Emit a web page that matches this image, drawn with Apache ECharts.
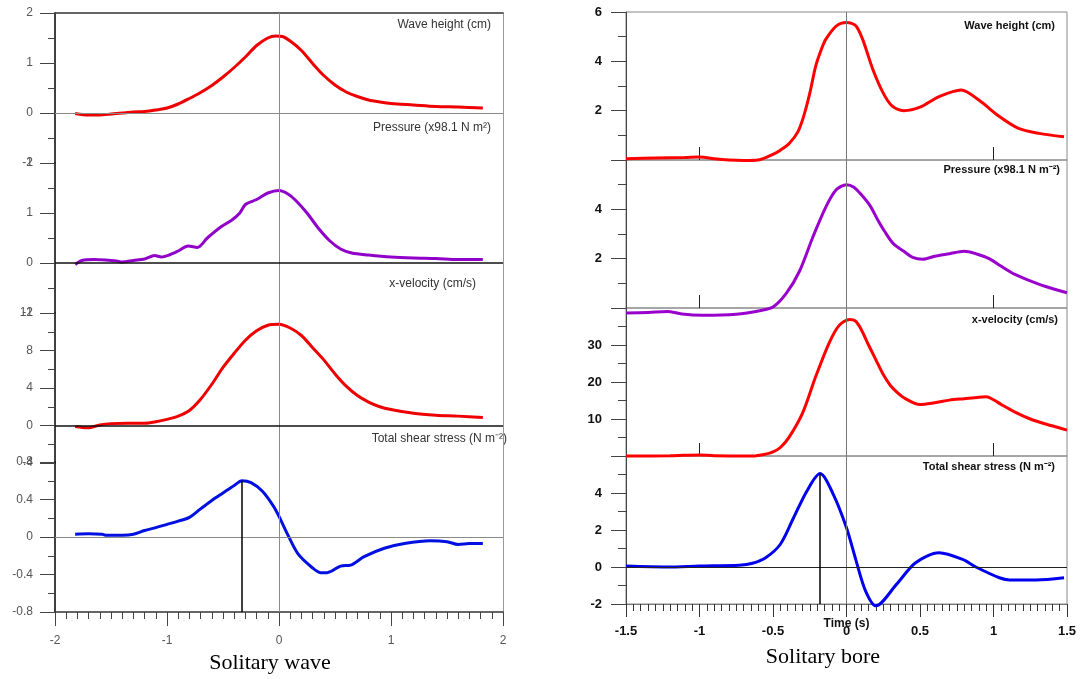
<!DOCTYPE html>
<html>
<head>
<meta charset="utf-8">
<script src="https://cdn.jsdelivr.net/npm/echarts@6/dist/echarts.min.js"></script>
<style>
html, body { margin: 0; padding: 0; background: #fff; }
#chart { width: 1082px; height: 679px; }
</style>
</head>
<body>
<div id="chart"></div>
<script>
// ---- Solitary wave (left column) ----
var waveHeightT = [-1.82, -1.7, -1.6, -1.5, -1.4, -1.3, -1.2, -1.1, -1.0, -0.9, -0.8, -0.7, -0.6, -0.5, -0.4, -0.3, -0.2, -0.1, -0.03, 0.03, 0.1, 0.2, 0.3, 0.4, 0.5, 0.6, 0.7, 0.8, 0.9, 1.0, 1.2, 1.4, 1.6, 1.82];
var waveHeightV = [-0.01, -0.04, -0.04, -0.02, 0.0, 0.02, 0.03, 0.06, 0.1, 0.18, 0.29, 0.41, 0.55, 0.72, 0.91, 1.12, 1.35, 1.5, 1.54, 1.53, 1.44, 1.25, 0.99, 0.75, 0.56, 0.42, 0.33, 0.26, 0.22, 0.19, 0.16, 0.13, 0.12, 0.1];

var wavePressureT = [-1.82, -1.76, -1.65, -1.55, -1.45, -1.4, -1.3, -1.2, -1.11, -1.05, -0.98, -0.9, -0.81, -0.73, -0.64, -0.52, -0.42, -0.35, -0.3, -0.2, -0.1, 0.0, 0.08, 0.15, 0.25, 0.35, 0.45, 0.55, 0.65, 0.8, 1.0, 1.2, 1.4, 1.6, 1.82];
var wavePressureV = [-0.03, 0.05, 0.07, 0.06, 0.04, 0.02, 0.05, 0.08, 0.15, 0.12, 0.16, 0.24, 0.34, 0.31, 0.5, 0.72, 0.86, 1.0, 1.17, 1.27, 1.4, 1.45, 1.38, 1.25, 1.0, 0.7, 0.45, 0.28, 0.2, 0.16, 0.12, 0.1, 0.09, 0.07, 0.07];

var waveVelocityT = [-1.82, -1.71, -1.6, -1.5, -1.35, -1.2, -1.1, -1.0, -0.9, -0.8, -0.7, -0.6, -0.5, -0.4, -0.3, -0.2, -0.1, 0.0, 0.1, 0.2, 0.3, 0.4, 0.5, 0.6, 0.7, 0.8, 0.9, 1.0, 1.2, 1.4, 1.6, 1.82];
var waveVelocityV = [-0.1, -0.25, 0.05, 0.2, 0.25, 0.25, 0.4, 0.65, 1.0, 1.6, 2.8, 4.4, 6.2, 7.7, 9.1, 10.1, 10.7, 10.8, 10.4, 9.6, 8.3, 7.0, 5.5, 4.2, 3.2, 2.5, 2.0, 1.7, 1.3, 1.1, 1.0, 0.85];

var waveShearT = [-1.82, -1.7, -1.58, -1.55, -1.4, -1.3, -1.2, -1.1, -1.0, -0.9, -0.8, -0.7, -0.6, -0.5, -0.4, -0.33, -0.25, -0.15, -0.05, 0.0, 0.08, 0.17, 0.29, 0.37, 0.43, 0.55, 0.64, 0.76, 0.94, 1.12, 1.35, 1.5, 1.6, 1.7, 1.82];
var waveShearV = [0.03, 0.035, 0.03, 0.02, 0.02, 0.03, 0.07, 0.1, 0.135, 0.17, 0.21, 0.3, 0.39, 0.47, 0.55, 0.6, 0.58, 0.49, 0.33, 0.22, 0.02, -0.18, -0.32, -0.38, -0.38, -0.31, -0.3, -0.21, -0.12, -0.07, -0.04, -0.05, -0.08, -0.07, -0.07];

// ---- Solitary bore (right column) ----
var boreHeightT = [-1.5, -1.3, -1.1, -1.0, -0.9, -0.8, -0.7, -0.6, -0.5, -0.45, -0.39, -0.33, -0.29, -0.25, -0.21, -0.17, -0.14, -0.07, 0.0, 0.03, 0.066, 0.11, 0.18, 0.25, 0.31, 0.39, 0.5, 0.63, 0.78, 0.9, 1.04, 1.17, 1.31, 1.48];
var boreHeightV = [0.05, 0.08, 0.1, 0.12, 0.05, 0.0, -0.02, 0.0, 0.23, 0.4, 0.67, 1.15, 1.8, 2.7, 3.8, 4.5, 4.9, 5.43, 5.57, 5.55, 5.43, 4.89, 3.66, 2.71, 2.19, 2.0, 2.14, 2.57, 2.84, 2.43, 1.76, 1.28, 1.08, 0.94];

var borePressureT = [-1.5, -1.35, -1.22, -1.12, -0.98, -0.75, -0.59, -0.5, -0.41, -0.32, -0.23, -0.14, -0.07, 0.0, 0.05, 0.1, 0.16, 0.21, 0.26, 0.32, 0.39, 0.45, 0.52, 0.6, 0.7, 0.8, 0.88, 0.97, 1.05, 1.15, 1.25, 1.35, 1.5];
var borePressureV = [-0.2, -0.18, -0.14, -0.24, -0.29, -0.25, -0.11, 0.04, 0.59, 1.49, 2.86, 4.1, 4.79, 5.0, 4.9, 4.6, 4.15, 3.6, 3.1, 2.6, 2.3, 2.05, 1.98, 2.1, 2.2, 2.3, 2.2, 2.0, 1.7, 1.35, 1.1, 0.88, 0.62];

var boreVelocityT = [-1.5, -1.2, -1.0, -0.9, -0.64, -0.55, -0.5, -0.45, -0.39, -0.3, -0.21, -0.12, -0.05, 0.02, 0.06, 0.1, 0.15, 0.2, 0.25, 0.3, 0.35, 0.4, 0.5, 0.6, 0.7, 0.8, 0.9, 0.95, 1.0, 1.05, 1.15, 1.25, 1.35, 1.5];
var boreVelocityV = [0, 0.05, 0.3, 0.05, 0, 0.5, 1.1, 2.3, 5.1, 11.5, 21.4, 30.4, 35.3, 36.9, 36.5, 34.2, 30, 26, 22, 19, 17, 15.5, 13.9, 14.4, 15.1, 15.5, 15.9, 16, 15.2, 14, 11.8, 10, 8.7, 7];

var boreShearT = [-1.5, -1.22, -1.0, -0.73, -0.64, -0.55, -0.45, -0.36, -0.27, -0.18, -0.09, 0.0, 0.066, 0.13, 0.2, 0.34, 0.47, 0.63, 0.79, 0.88, 1.04, 1.11, 1.29, 1.48];
var boreShearV = [0.05, 0.0, 0.05, 0.1, 0.2, 0.5, 1.23, 2.66, 4.1, 5.05, 3.93, 2.12, 0.32, -1.3, -2.1, -0.94, 0.23, 0.77, 0.41, 0.0, -0.58, -0.7, -0.7, -0.58];

// axis ranges and labels
var waveYMin = [-1, -1, -4, -0.8];
var waveYMax = [2, 2, 12, 0.8];
var waveYStep = [1, 1, 4, 0.4];
var boreYMin = [0, 0, 0, -2];
var boreYMax = [6, 6, 40, 6];
var boreYStep = [2, 2, 10, 2];
var boreYLabels = [[2, 4, 6], [2, 4], [10, 20, 30], [-2, 0, 2, 4]];
var boreInnerTicks = [-1, 0, 1];

var waveTitles = ['Wave height (cm)', 'Pressure (x98.1 N m²)', 'x-velocity (cm/s)', 'Total shear stress (N m⁻²)'];
var boreTitles = ['Wave height (cm)', 'Pressure (x98.1 N m⁻²)', 'x-velocity (cm/s)', 'Total shear stress (N m⁻²)'];

function pairs(t, v){
    return t.map(function(x, i){ return [x, v[i]]; });
}
function peakOf(t, v){
    var k = 0;
    for (var i = 1; i < v.length; i++) { if (v[i] > v[k]) k = i; }
    return [t[k], v[k]];
}

function TwoColumnFigure(){
    this.waveTops = [13, 163, 313, 462];
    this.boreTops = [12, 160, 308, 456];
}
TwoColumnFigure.prototype.init = function(){
    var chartInstance = echarts.init(document.getElementById('chart'));
    var grid = [], xAxis = [], yAxis = [], series = [], graphic = [];
    var sans = 'Liberation Sans, Arial, sans-serif';
    var waveSets = [
        [waveHeightT, waveHeightV, '#ee0000'],
        [wavePressureT, wavePressureV, '#9000c8'],
        [waveVelocityT, waveVelocityV, '#ee0000'],
        [waveShearT, waveShearV, '#0010e0']
    ];
    var boreSets = [
        [boreHeightT, boreHeightV, '#ff0000'],
        [borePressureT, borePressureV, '#9a00cc'],
        [boreVelocityT, boreVelocityV, '#ff0000'],
        [boreShearT, boreShearV, '#0000ee']
    ];
    var waveZeroColor = ['#8a8a8a', '#111', '#111', '#8a8a8a'];
    var i;

    //left column grids
    for (i = 0; i < 4; i++) {
        grid.push({ left: 55, top: this.waveTops[i], width: 448, height: 150 });
        var last = (i == 3);
        xAxis.push({
            gridIndex: i, type: 'value', min: -2, max: 2, interval: 1,
            axisLine: { show: last, onZero: false, lineStyle: { color: '#333', width: 1.5 } },
            axisTick: { show: last, length: 14, lineStyle: { color: '#444' } },
            minorTick: { show: last, splitNumber: 10, length: 7, lineStyle: { color: '#444' } },
            axisLabel: { show: last, margin: 23, color: '#555', fontSize: 12, fontFamily: sans },
            splitLine: { show: false }
        });
        yAxis.push({
            gridIndex: i, type: 'value', min: waveYMin[i], max: waveYMax[i], interval: waveYStep[i],
            axisLine: { show: true, onZero: false, lineStyle: { color: '#000', width: 1.5 } },
            axisTick: { length: 15, lineStyle: { color: '#444' } },
            minorTick: { show: true, splitNumber: 2, length: 7, lineStyle: { color: '#444' } },
            axisLabel: { margin: 22, color: '#555', fontSize: 12, fontFamily: sans },
            splitLine: { show: false }
        });
    }
    //right column grids
    for (i = 0; i < 4; i++) {
        grid.push({ left: 626, top: this.boreTops[i], width: 441, height: 148, show: true, borderColor: '#888', borderWidth: 1 });
        var bottom = (i == 3);
        xAxis.push({
            gridIndex: 4 + i, type: 'value', min: -1.5, max: 1.5, interval: 0.5,
            axisLine: { show: bottom, onZero: false, lineStyle: { color: '#777' } },
            axisTick: bottom ? { length: 13, lineStyle: { color: '#333' } }
                             : { inside: true, length: 13, customValues: boreInnerTicks, lineStyle: { color: '#222' } },
            minorTick: { show: bottom, splitNumber: 10, length: 7, lineStyle: { color: '#333' } },
            axisLabel: { show: bottom, margin: 21, color: '#111', fontSize: 13, fontWeight: 'bold', fontFamily: sans },
            name: bottom ? 'Time (s)' : '',
            nameLocation: 'middle', nameGap: 14, nameMoveOverlap: false,
            nameTextStyle: { color: '#111', fontSize: 12, fontWeight: 'bold', fontFamily: sans },
            splitLine: { show: false }
        });
        (function(shown){
            yAxis.push({
                gridIndex: 4 + i, type: 'value', min: boreYMin[i], max: boreYMax[i], interval: boreYStep[i],
                axisLine: { show: true, onZero: false, lineStyle: { color: '#444' } },
                axisTick: { length: 15, lineStyle: { color: '#444' } },
                minorTick: { show: true, splitNumber: 2, length: 8, lineStyle: { color: '#444' } },
                axisLabel: {
                    margin: 24, color: '#111', fontSize: 13, fontWeight: 'bold', fontFamily: sans,
                    formatter: function(v){ return shown.indexOf(v) >= 0 ? String(v) : ''; }
                },
                splitLine: { show: false }
            });
        })(boreYLabels[i]);
    }
    //left column frame: top and right edges
    xAxis.push({
        gridIndex: 0, type: 'value', position: 'top', min: -2, max: 2,
        axisLine: { show: true, onZero: false, lineStyle: { color: '#333', width: 1.5 } },
        axisTick: { show: false }, axisLabel: { show: false }, splitLine: { show: false }
    });
    for (i = 0; i < 4; i++) {
        yAxis.push({
            gridIndex: i, type: 'value', position: 'right', min: waveYMin[i], max: waveYMax[i],
            axisLine: { show: true, onZero: false, lineStyle: { color: '#999' } },
            axisTick: { show: false }, axisLabel: { show: false }, splitLine: { show: false }
        });
    }

    var guideLine = function(idx, items){
        return {
            type: 'line', xAxisIndex: idx, yAxisIndex: idx, data: [], z: 1, silent: true,
            markLine: { silent: true, symbol: 'none', animation: false, label: { show: false }, data: items }
        };
    };
    var curve = function(idx, set){
        return {
            type: 'line', xAxisIndex: idx, yAxisIndex: idx, data: pairs(set[0], set[1]),
            showSymbol: false, smooth: 0.3, clip: false, z: 3, animation: false,
            lineStyle: { color: set[2], width: 3 }
        };
    };

    for (i = 0; i < 4; i++) {
        var items = [
            { xAxis: 0, lineStyle: { color: '#8a8a8a', width: 1, type: 'solid' } },
            { yAxis: 0, lineStyle: { color: waveZeroColor[i], width: waveZeroColor[i] == '#111' ? 1.5 : 1, type: 'solid' } }
        ];
        if (i == 3) {
            var p = peakOf(waveShearT, waveShearV);
            items.push([{ coord: [p[0], p[1]], lineStyle: { color: '#000', width: 1.5, type: 'solid' } }, { coord: [p[0], waveYMin[3]] }]);
        }
        series.push(guideLine(i, items));
        series.push(curve(i, waveSets[i]));
    }
    for (i = 0; i < 4; i++) {
        var bitems = [{ xAxis: 0, lineStyle: { color: '#777', width: 1, type: 'solid' } }];
        if (i == 3) {
            var q = peakOf(boreShearT, boreShearV);
            bitems.push({ yAxis: 0, lineStyle: { color: '#222', width: 1, type: 'solid' } });
            bitems.push([{ coord: [q[0], q[1]], lineStyle: { color: '#000', width: 1.5, type: 'solid' } }, { coord: [q[0], boreYMin[3]] }]);
        }
        series.push(guideLine(4 + i, bitems));
        series.push(curve(4 + i, boreSets[i]));
    }

    //panel titles
    var waveTitlePos = [[591, 19], [591, 122], [606, 278], [575, 433]];
    var boreTitlePos = [[27, 20], [22, 164], [24, 314], [27, 461]];
    for (i = 0; i < 4; i++) {
        graphic.push({ type: 'text', right: waveTitlePos[i][0], top: waveTitlePos[i][1],
            style: { text: waveTitles[i], fill: '#333', font: '12px ' + sans } });
        graphic.push({ type: 'text', right: boreTitlePos[i][0], top: boreTitlePos[i][1],
            style: { text: boreTitles[i], fill: '#111', font: 'bold 11px ' + sans } });
    }
    graphic.push({ type: 'text', x: 270, y: 663,
        style: { text: 'Solitary wave', fill: '#000', font: '22px Liberation Serif, Times New Roman, serif', textAlign: 'center', textVerticalAlign: 'middle' } });
    graphic.push({ type: 'text', x: 823, y: 657,
        style: { text: 'Solitary bore', fill: '#000', font: '22px Liberation Serif, Times New Roman, serif', textAlign: 'center', textVerticalAlign: 'middle' } });

    var option = {
        backgroundColor: '#fff',
        animation: false,
        grid: grid,
        xAxis: xAxis,
        yAxis: yAxis,
        series: series,
        graphic: graphic
    };
    chartInstance.setOption(option, true);
};

var figure = new TwoColumnFigure();
figure.init();
</script>
</body>
</html>
